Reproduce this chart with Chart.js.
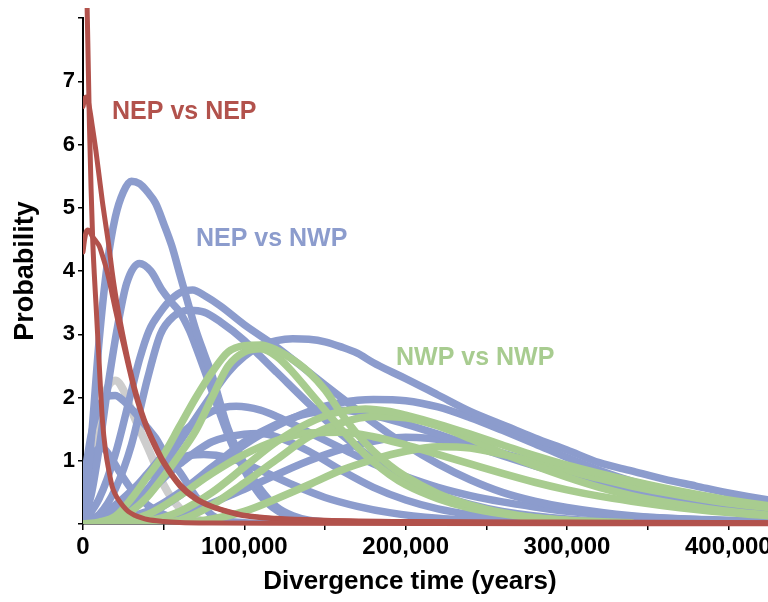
<!DOCTYPE html>
<html>
<head>
<meta charset="utf-8">
<script src="https://cdn.jsdelivr.net/npm/chart.js@4.4.1/dist/chart.umd.min.js"></script>
<style>
  html, body { margin: 0; padding: 0; background: #fff; overflow: hidden; }
  #wrap { width: 768px; height: 602px; overflow: hidden; }
</style>
</head>
<body>
<div id="wrap"><canvas id="grafica" width="812" height="602"></canvas></div>
<script>
// x values in thousands of years, y = probability
const X_UNIT = 1000;

// --- NEP vs NEP (red) ---
const nepNep1 = [[0,12],[1,10.5],[2,8.9],[3,7.6],[4,6.3],[5,5.3],[6,4.5],[7,3.95],[8,3.5],[10,2.55],[12,1.65],[14,1.15],[16,0.85],[18,0.6],[20,0.47],[22,0.38],[25,0.28],[28,0.2],[32,0.14],[36,0.1],[40,0.07],[50,0.04],[60,0.025],[80,0.015],[120,0.01],[450,0.005]];
const nepNep2 = [[0,6.6],[1,6.72],[2,6.75],[3,6.7],[4,6.58],[6,6.25],[8,5.9],[10,5.5],[12,5.1],[14,4.75],[16,4.4],[18,4.0],[20,3.65],[22,3.35],[25,2.95],[28,2.58],[32,2.15],[36,1.8],[40,1.52],[45,1.24],[50,0.99],[60,0.63],[70,0.41],[80,0.28],[90,0.2],[100,0.14],[120,0.09],[150,0.06],[200,0.04],[300,0.03],[450,0.02]];
const nepNep3 = [[0,4.3],[1,4.5],[2,4.62],[3,4.65],[4,4.63],[6,4.54],[8,4.47],[10,4.4],[12,4.25],[14,4.08],[16,3.88],[18,3.64],[20,3.4],[22,3.17],[25,2.85],[28,2.52],[32,2.1],[36,1.76],[40,1.48],[45,1.2],[50,0.96],[60,0.6],[70,0.39],[80,0.27],[90,0.19],[100,0.13],[120,0.08],[150,0.05],[200,0.03],[300,0.02],[450,0.015]];

// --- NEP vs NWP (blue) ---
const nepNwp1 = [[0,0.15],[5,1.3],[10,2.9],[15,4.1],[20,4.85],[25,5.25],[30,5.42],[35,5.38],[40,5.25],[45,5.07],[50,4.75],[55,4.4],[60,3.95],[65,3.5],[70,3.06],[75,2.7],[80,2.35],[90,1.5],[100,0.95],[110,0.55],[120,0.27],[130,0.13],[140,0.06],[160,0.02],[200,0.005]];
const nepNwp2 = [[0,0.05],[5,0.45],[10,1.2],[15,2.1],[21,3.06],[27,3.8],[35,4.12],[42,4.0],[49,3.7],[55,3.5],[60,3.35],[66,3.06],[70,2.8],[80,2.1],[90,1.4],[100,0.85],[110,0.45],[120,0.22],[130,0.1],[140,0.05],[160,0.015],[200,0.005]];
const nepNwp3 = [[0,0.02],[10,0.4],[20,1.1],[30,2.1],[35,2.6],[41,3.06],[48,3.35],[55,3.56],[62,3.68],[68,3.7],[76,3.6],[85,3.45],[100,3.15],[120,2.8],[140,2.4],[160,2.0],[180,1.6],[200,1.25],[220,0.95],[240,0.7],[260,0.5],[280,0.36],[300,0.26],[340,0.13],[400,0.05],[450,0.03]];
const nepNwp4 = [[0,0],[10,0.15],[20,0.55],[30,1.25],[40,2.3],[48,3.0],[56,3.28],[66,3.38],[75,3.35],[85,3.2],[100,2.9],[110,2.65],[120,2.4],[140,1.9],[160,1.42],[180,1.02],[200,0.7],[220,0.47],[240,0.31],[260,0.2],[300,0.08],[350,0.03],[450,0.01]];
const nepNwp5 = [[0,0],[20,0.1],[40,0.55],[60,1.3],[80,2.05],[90,2.4],[100,2.65],[110,2.82],[120,2.9],[130,2.93],[140,2.92],[150,2.88],[160,2.8],[170,2.7],[180,2.55],[190,2.42],[200,2.3],[220,2.04],[240,1.78],[264,1.53],[280,1.36],[300,1.17],[320,0.97],[340,0.84],[360,0.71],[380,0.6],[400,0.49],[425,0.38],[450,0.3]];
const nepNwp6 = [[0,0],[40,0.15],[60,0.45],[80,0.85],[100,1.25],[120,1.55],[140,1.78],[160,1.92],[180,1.97],[200,1.95],[220,1.85],[240,1.68],[260,1.48],[280,1.27],[300,1.05],[320,0.85],[340,0.68],[360,0.55],[380,0.44],[400,0.35],[425,0.27],[450,0.2]];
const nepNwp7 = [[0,0.6],[5,1.4],[10,1.85],[15,2.02],[20,2.03],[25,1.95],[30,1.82],[35,1.68],[40,1.52],[45,1.36],[50,1.15],[55,0.98],[60,0.82],[70,0.43],[80,0.14],[90,0.05],[100,0.02],[120,0.005]];
const nepNwp8 = [[0,0],[20,0.25],[40,0.8],[60,1.4],[80,1.78],[95,1.86],[110,1.8],[120,1.7],[140,1.45],[160,1.2],[180,0.95],[200,0.75],[220,0.58],[240,0.45],[260,0.35],[280,0.27],[300,0.2],[340,0.12],[400,0.06],[450,0.04]];
const nepNwp9 = [[0,0],[40,0.2],[60,0.5],[80,0.9],[100,1.3],[120,1.58],[140,1.75],[160,1.8],[180,1.72],[200,1.58],[220,1.42],[240,1.25],[260,1.08],[280,0.92],[300,0.78],[320,0.66],[340,0.55],[360,0.46],[380,0.38],[400,0.31],[425,0.24],[450,0.18]];
const nepNwp10 = [[0,0],[60,0.15],[100,0.55],[140,1.0],[170,1.25],[200,1.37],[230,1.3],[260,1.12],[290,0.9],[320,0.68],[350,0.5],[380,0.36],[400,0.28],[425,0.22],[450,0.16]];
const nepNwp11 = [[0,0],[20,0.15],[40,0.5],[60,0.95],[80,1.3],[100,1.42],[110,1.43],[120,1.38],[140,1.15],[160,0.85],[180,0.58],[200,0.38],[220,0.24],[240,0.15],[260,0.09],[300,0.03],[350,0.01]];
const nepNwp12 = [[0,0],[20,0.3],[40,0.75],[60,1.05],[75,1.1],[90,1.05],[110,0.85],[130,0.62],[150,0.42],[170,0.28],[190,0.18],[220,0.09],[260,0.04],[320,0.01]];
const nepNwp13 = [[0,0.3],[4,0.9],[8,1.15],[12,1.2],[16,1.1],[22,0.85],[30,0.55],[40,0.3],[50,0.15],[60,0.07],[80,0.02]];

// --- NWP vs NWP (green) ---
const nwpNwp1 = [[0,0],[10,0.03],[20,0.12],[30,0.4],[40,0.75],[50,1.1],[60,1.55],[70,2.0],[80,2.4],[90,2.72],[100,2.82],[110,2.83],[120,2.75],[130,2.6],[140,2.4],[150,2.12],[160,1.75],[170,1.42],[180,1.15],[190,0.93],[200,0.75],[220,0.48],[240,0.3],[260,0.18],[280,0.1],[300,0.06],[340,0.02]];
const nwpNwp2 = [[0,0],[10,0.01],[20,0.05],[30,0.2],[40,0.43],[50,0.75],[60,1.1],[70,1.48],[80,2.0],[90,2.5],[100,2.72],[110,2.77],[120,2.65],[130,2.4],[140,2.1],[150,1.8],[160,1.5],[170,1.22],[180,0.98],[190,0.78],[200,0.62],[220,0.4],[240,0.25],[260,0.16],[280,0.1],[300,0.06]];
const nwpNwp3 = [[0,0],[40,0.05],[60,0.2],[80,0.5],[100,0.9],[120,1.3],[140,1.6],[160,1.78],[175,1.82],[190,1.78],[200,1.72],[220,1.58],[240,1.42],[260,1.25],[280,1.08],[300,0.93],[320,0.8],[340,0.68],[360,0.57],[380,0.47],[400,0.38],[425,0.29],[450,0.22]];
const nwpNwp4 = [[0,0],[40,0.01],[60,0.06],[80,0.3],[100,0.65],[120,1.02],[140,1.38],[160,1.6],[180,1.7],[200,1.68],[220,1.55],[240,1.35],[260,1.12],[280,0.92],[300,0.74],[320,0.58],[340,0.45],[360,0.35],[380,0.27],[400,0.2],[425,0.14],[450,0.1]];
const nwpNwp5 = [[0,0],[20,0.02],[40,0.15],[60,0.45],[80,0.8],[100,1.1],[120,1.32],[140,1.44],[160,1.45],[180,1.38],[200,1.25],[220,1.1],[240,0.95],[260,0.8],[280,0.66],[300,0.54],[320,0.44],[340,0.36],[360,0.29],[380,0.23],[400,0.18],[425,0.13],[450,0.1]];
const nwpNwp6 = [[0,0],[60,0.02],[80,0.08],[100,0.2],[120,0.4],[140,0.62],[160,0.85],[180,1.02],[200,1.15],[220,1.22],[240,1.2],[260,1.1],[280,0.98],[300,0.85],[320,0.72],[340,0.6],[360,0.5],[380,0.41],[400,0.33],[425,0.26],[450,0.2]];

// --- grey curve behind the blue ones ---
const greyCurve = [[0,0.3],[5,1.15],[10,1.75],[15,2.15],[20,2.27],[25,2.12],[30,1.8],[35,1.5],[40,1.22],[45,0.92],[50,0.62],[60,0.25],[70,0.08],[80,0.02]];

// --- text labels (x in thousands of years, y in probability) ---
const groupNames = ['NEP vs NEP', 'NEP vs NWP', 'NWP vs NWP'];
const groupLabelX = [18, 70, 194];
const groupLabelY = [6.52, 4.5, 2.62];

const ROJO = '#B2524C';
const AZUL = '#8C9CCD';
const VERDE = '#A8CC8F';
const GRIS = '#CDCDCD';
const FUENTE = "'Liberation Sans', Arial, Helvetica, sans-serif";

function serie(pares, color, ancho, extra) {
    return Object.assign({
        data: pares.map(([x, y]) => ({ x: x * X_UNIT, y: y })),
        borderColor: color,
        borderWidth: ancho,
        pointRadius: 0,
        fill: false,
        cubicInterpolationMode: 'monotone',
        borderCapStyle: 'round',
        borderJoinStyle: 'round'
    }, extra || {});
}

// first dataset is drawn on top
const datasets = [
    serie(nepNep1, ROJO, 5, { clip: { left: 0, top: 10, right: 0, bottom: 4 } }),
    serie(nepNep2, ROJO, 5),
    serie(nepNep3, ROJO, 5),
    serie(nwpNwp1, VERDE, 7.5),
    serie(nwpNwp2, VERDE, 7.5),
    serie(nwpNwp3, VERDE, 7.5),
    serie(nwpNwp4, VERDE, 7.5),
    serie(nwpNwp5, VERDE, 7.5),
    serie(nwpNwp6, VERDE, 7.5),
    serie(nepNwp1, AZUL, 7.5),
    serie(nepNwp2, AZUL, 7.5),
    serie(nepNwp3, AZUL, 7.5),
    serie(nepNwp4, AZUL, 7.5),
    serie(nepNwp5, AZUL, 7.5),
    serie(nepNwp6, AZUL, 7.5),
    serie(nepNwp7, AZUL, 7.5),
    serie(nepNwp8, AZUL, 7.5),
    serie(nepNwp9, AZUL, 7.5),
    serie(nepNwp10, AZUL, 7.5),
    serie(nepNwp11, AZUL, 7.5),
    serie(nepNwp12, AZUL, 7.5),
    serie(nepNwp13, AZUL, 7.5),
    serie(greyCurve, GRIS, 8)
];

const coloresEtiqueta = [ROJO, AZUL, '#A8CC90'];

const etiquetas = {
    id: 'etiquetas',
    afterDatasetsDraw(chart) {
        const { ctx, scales } = chart;
        ctx.save();
        ctx.font = 'bold 25px ' + FUENTE;
        ctx.textAlign = 'left';
        ctx.textBaseline = 'middle';
        groupNames.forEach((txt, i) => {
            ctx.fillStyle = coloresEtiqueta[i];
            ctx.fillText(txt, scales.x.getPixelForValue(groupLabelX[i] * X_UNIT), scales.y.getPixelForValue(groupLabelY[i]));
        });
        ctx.restore();
    }
};

new Chart(document.getElementById('grafica').getContext('2d'), {
    type: 'line',
    data: { datasets: datasets },
    plugins: [etiquetas],
    options: {
        responsive: false,
        animation: false,
        devicePixelRatio: 1,
        layout: { padding: { top: 18, right: 0, bottom: 0, left: 0 } },
        plugins: { legend: { display: false }, tooltip: { enabled: false } },
        scales: {
            x: {
                type: 'linear',
                min: 0,
                max: 450000,
                afterFit: (s) => { s.height = 78; },
                border: { display: true, color: '#000', width: 1.5 },
                grid: { drawOnChartArea: false, drawTicks: true, tickLength: 6, color: '#000', lineWidth: 1.5 },
                ticks: {
                    stepSize: 50000,
                    autoSkip: false,
                    maxRotation: 0,
                    padding: 3,
                    color: '#000',
                    font: { family: FUENTE, weight: 'bold', size: 24 },
                    callback: (v) => (v % 100000 === 0 && v < 450000) ? v.toLocaleString('en-US') : ''
                },
                title: {
                    display: true,
                    // trailing spaces pull the centred title left, under the visible part of the axis
                    text: 'Divergence time (years)          ',
                    color: '#000',
                    font: { family: FUENTE, weight: 'bold', size: 26 },
                    padding: { top: 0, bottom: 5 }
                }
            },
            y: {
                min: 0,
                max: 8,
                afterFit: (s) => { s.width = 83; },
                border: { display: true, color: '#000', width: 2 },
                grid: { drawOnChartArea: false, drawTicks: true, tickLength: 5, color: '#000', lineWidth: 1.5 },
                ticks: {
                    stepSize: 1,
                    padding: 3,
                    color: '#000',
                    font: { family: FUENTE, weight: 'bold', size: 22 },
                    callback: (v) => (v === 0 || v === 8) ? '' : v
                },
                title: {
                    display: true,
                    text: 'Probability',
                    color: '#000',
                    font: { family: FUENTE, weight: 'bold', size: 27 },
                    padding: { top: 9, bottom: 0 }
                }
            }
        }
    }
});
</script>
</body>
</html>
